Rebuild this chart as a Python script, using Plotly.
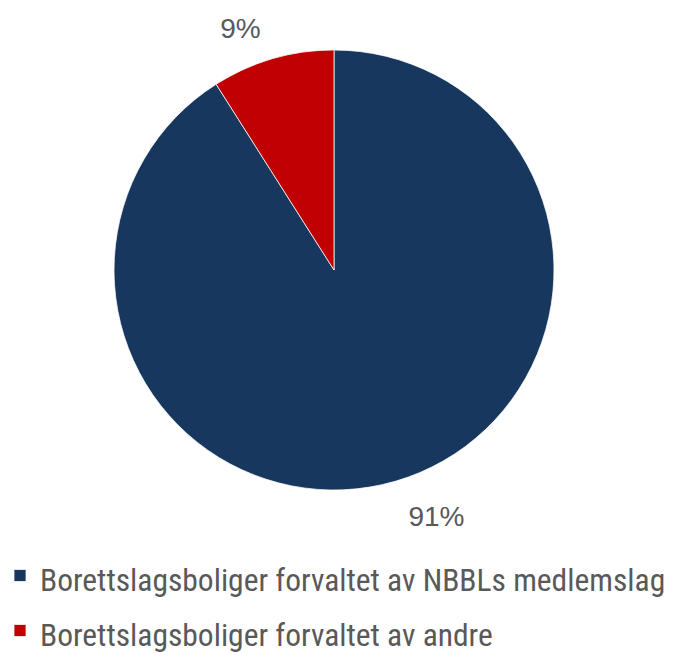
import plotly.graph_objects as go

labels = ["Borettslagsboliger forvaltet av NBBLs medlemslag",
          "Borettslagsboliger forvaltet av andre"]
values = [91, 9]
colors = ["#17375E", "#C00000"]

W, H = 673, 653
cx, cy, r = 334, 270, 220

LEG_TEXT = 31.5
legend_labels = [f"<span style='font-size:{LEG_TEXT}px'>{l}</span>" for l in labels]

PCT = 28
# spacer lines push the outside labels a bit further from the pie
texttemplates = [
    f"&nbsp;<br><span style='font-size:{PCT}px'>%{{percent:.0%}}</span>",
    f"<span style='font-size:{PCT}px'>%{{percent:.0%}}</span><br>&nbsp;",
]
base_sizes = [21, 15]

fig = go.Figure(go.Pie(
    labels=legend_labels,
    values=values,
    sort=False,
    direction="clockwise",
    rotation=0,
    marker=dict(colors=colors, line=dict(width=0.75, color="white")),
    texttemplate=texttemplates,
    textposition="outside",
    outsidetextfont=dict(family="Liberation Sans, Arial, sans-serif", size=base_sizes, color="#595959"),
    domain=dict(x=[(cx - r) / W, (cx + r) / W], y=[1 - (cy + r) / H, 1 - (cy - r) / H]),
    hoverinfo="label+percent",
))

fig.update_layout(
    width=W, height=H,
    margin=dict(l=0, r=0, t=0, b=0, autoexpand=False),
    paper_bgcolor="white",
    plot_bgcolor="white",
    showlegend=True,
    legend=dict(
        orientation="v",
        x=0.0, xanchor="left",
        y=1 - 543 / H, yanchor="top",
        font=dict(family="Roboto Condensed, Liberation Sans Narrow, Arial Narrow, sans-serif",
                  size=40, color="#595959"),
        bgcolor="rgba(0,0,0,0)",
    ),
)

fig.write_html("out.html",
               config={"displayModeBar": False},
               post_script="document.body.style.margin='0';document.body.style.overflow='hidden';")
